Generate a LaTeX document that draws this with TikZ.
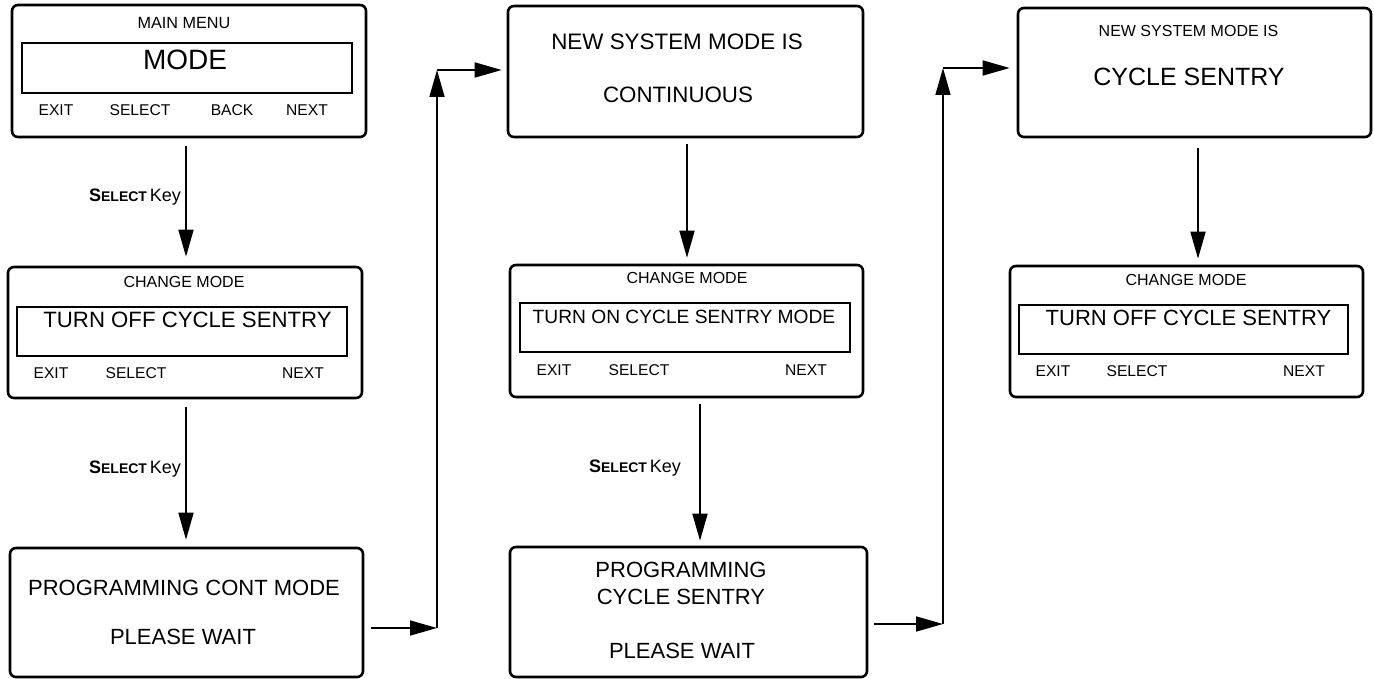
\documentclass[tikz,border=0pt]{standalone}
\usepackage{fontspec}
\setmainfont{Liberation Sans}
\usetikzlibrary{arrows.meta}
\newcommand\myfs[1]{\fontsize{#1}{#1}\selectfont}
\tikzset{
  screen/.style={draw, line width=2.6pt, rounded corners=6pt, inner sep=0pt},
  lcd/.style={draw, line width=1.1pt, inner sep=0pt},
  txt/.style={inner sep=0pt, anchor=center},
  arr/.style={line width=1.7pt, -{Triangle[length=27pt,width=15pt]}},
  keylbl/.style={inner sep=0pt, anchor=base east}
}
\newcommand\selkey{{\myfs{18}\bfseries S{\myfs{14}ELECT}} {\myfs{18}Key}}
\begin{document}
\begin{tikzpicture}[x=1pt,y=-1pt]
\useasboundingbox (0,0) rectangle (1374,679);
% ---------- column 1 ----------
\node[screen, minimum width=354pt, minimum height=132pt] (A) at (189,71) {};
\node[lcd, minimum width=330pt, minimum height=50pt] (Ai) at (187,68) {};
\node[txt, font=\myfs{16.2}] (A1) at (184,23) {MAIN MENU};
\node[txt, font=\myfs{28}] (A2) at (185,60) {MODE};
\node[txt, font=\myfs{15.6}] (A3) at (56,110) {EXIT};
\node[txt, font=\myfs{15.6}] (A4) at (140,110) {SELECT};
\node[txt, font=\myfs{15.6}] (A5) at (232,110) {BACK};
\node[txt, font=\myfs{15.6}] (A6) at (307,110) {NEXT};

\node[screen, minimum width=354pt, minimum height=131pt] (B) at (185,332.5) {};
\node[lcd, minimum width=330pt, minimum height=49pt] (Bi) at (182,331.5) {};
\node[txt, font=\myfs{16}] (B1) at (184,282) {CHANGE MODE};
\node[txt, font=\myfs{22.2}] (B2) at (187.5,320) {TURN OFF CYCLE SENTRY};
\node[txt, font=\myfs{15.6}] (B3) at (51,373) {EXIT};
\node[txt, font=\myfs{15.6}] (B4) at (136,373) {SELECT};
\node[txt, font=\myfs{15.6}] (B5) at (303,373) {NEXT};

\node[screen, minimum width=353pt, minimum height=129pt] (C) at (186.5,612.5) {};
\node[txt, font=\myfs{22}] (C1) at (184,588) {PROGRAMMING CONT MODE};
\node[txt, font=\myfs{22}] (C2) at (183,637) {PLEASE WAIT};

% ---------- column 2 ----------
\node[screen, minimum width=355pt, minimum height=131pt] (D) at (685.5,71.5) {};
\node[txt, font=\myfs{22.4}] (D1) at (677,42) {NEW SYSTEM MODE IS};
\node[txt, font=\myfs{22.3}] (D2) at (678,95) {CONTINUOUS};

\node[screen, minimum width=353pt, minimum height=132pt] (E) at (686.5,331) {};
\node[lcd, minimum width=330pt, minimum height=49pt] (Ei) at (685,327.5) {};
\node[txt, font=\myfs{16}] (E1) at (687,278) {CHANGE MODE};
\node[txt, font=\myfs{19.2}] (E2) at (684,317) {TURN ON CYCLE SENTRY MODE};
\node[txt, font=\myfs{15.6}] (E3) at (554,370) {EXIT};
\node[txt, font=\myfs{15.6}] (E4) at (639,370) {SELECT};
\node[txt, font=\myfs{15.6}] (E5) at (806,370) {NEXT};

\node[screen, minimum width=357pt, minimum height=130pt] (F) at (688.5,612) {};
\node[txt, font=\myfs{22}] (F1) at (681,570) {PROGRAMMING};
\node[txt, font=\myfs{22}] (F2) at (681,597) {CYCLE SENTRY};
\node[txt, font=\myfs{22}] (F3) at (682,651) {PLEASE WAIT};

% ---------- column 3 ----------
\node[screen, minimum width=353pt, minimum height=129pt] (G) at (1194.5,72.5) {};
\node[txt, font=\myfs{16}] (G1) at (1188.5,31) {NEW SYSTEM MODE IS};
\node[txt, font=\myfs{25}] (G2) at (1189,77) {CYCLE SENTRY};

\node[screen, minimum width=353pt, minimum height=131pt] (H) at (1186.5,331.5) {};
\node[lcd, minimum width=329pt, minimum height=49pt] (Hi) at (1183.5,329.5) {};
\node[txt, font=\myfs{16}] (H1) at (1186,280) {CHANGE MODE};
\node[txt, font=\myfs{22}] (H2) at (1188.5,318) {TURN OFF CYCLE SENTRY};
\node[txt, font=\myfs{15.6}] (H3) at (1053,371) {EXIT};
\node[txt, font=\myfs{15.6}] (H4) at (1137,371) {SELECT};
\node[txt, font=\myfs{15.6}] (H5) at (1304,371) {NEXT};

% ---------- vertical connectors ----------
\draw[arr] ([xshift=-3pt,yshift=-8pt]A.south) -- ([xshift=1pt,yshift=9pt]B.north);
\draw[arr] ([xshift=1pt,yshift=-8pt]B.south) -- ([xshift=-0.5pt,yshift=7pt]C.north);
\draw[arr] ([xshift=1.5pt,yshift=-6pt]D.south) -- ([xshift=0.5pt,yshift=6pt]E.north);
\draw[arr] ([xshift=13.5pt,yshift=-6pt]E.south) -- ([xshift=11.5pt,yshift=5pt]F.north);
\draw[arr] ([xshift=3.5pt,yshift=-10pt]G.south) -- ([xshift=11.5pt,yshift=6pt]H.north);

\node[keylbl] (L1) at (181,202) {\selkey};
\node[keylbl] (L2) at (181,473) {\selkey};
\node[keylbl] (L3) at (681,472) {\selkey};

% ---------- loop-back connectors ----------
\coordinate (k1) at (437,628);
\coordinate (k2) at (437,70);
\draw[arr] ([xshift=7pt]C.east |- k1) -- (k1);
\draw[arr] (k1) -- (k2);
\draw[arr] (k2) -- ([xshift=-5pt]D.west |- k2);

\coordinate (k3) at (943,624);
\coordinate (k4) at (943,68);
\draw[arr] ([xshift=6pt]F.east |- k3) -- (k3);
\draw[arr] (k3) -- (k4);
\draw[arr] (k4) -- ([xshift=-7pt]G.west |- k4);
\end{tikzpicture}
\end{document}
